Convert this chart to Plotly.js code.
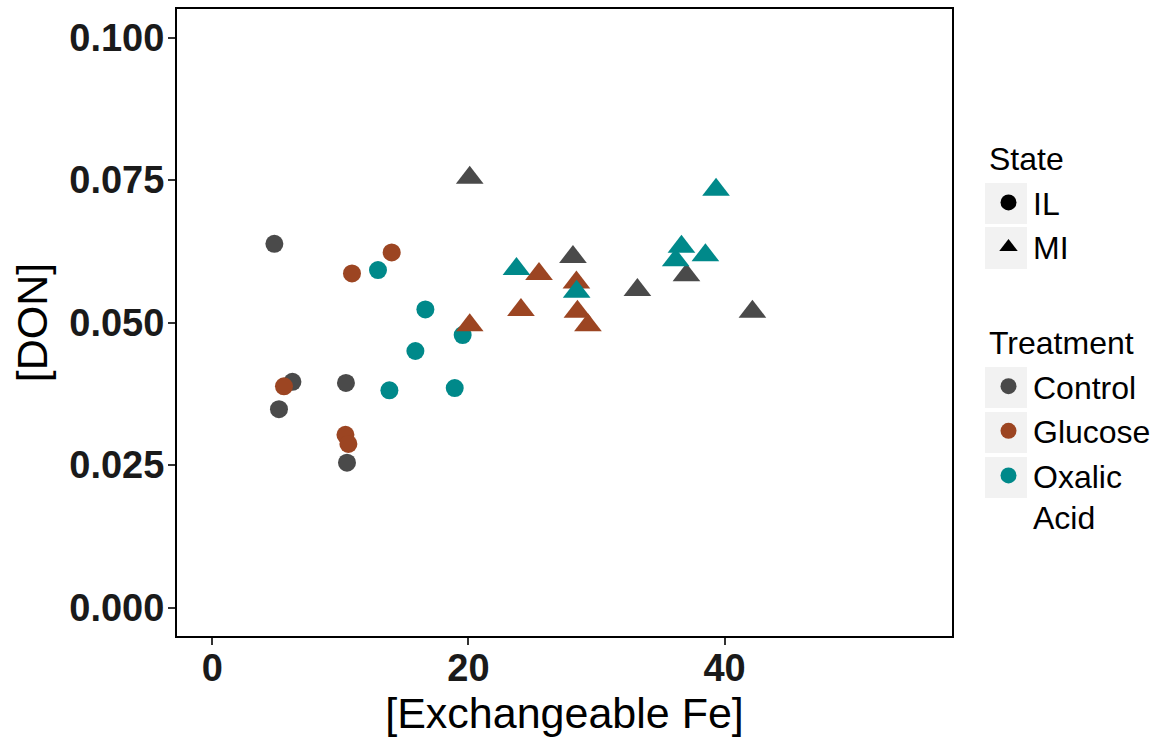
<!DOCTYPE html>
<html>
<head>
<meta charset="utf-8">
<script src="https://cdn.plot.ly/plotly-3.0.1.min.js"></script>
<style>html,body{margin:0;padding:0;background:#fff;}#chart{width:1170px;height:738px;}</style>
</head>
<body>
<div id="chart"></div>
<script>
// ---- data ----
var treatments = ["Control", "Glucose", "Oxalic Acid"];
var treatmentLabels = ["Control", "Glucose", "Oxalic<br>Acid"];
var states = ["IL", "MI"];

// IL (circles)
var IL_Control_x = [4.85, 6.26, 5.21, 10.44, 10.52];
var IL_Control_y = [0.0638, 0.0396, 0.0348, 0.0394, 0.0254];
var IL_Glucose_x = [14.01, 10.91, 5.60, 10.40, 10.63];
var IL_Glucose_y = [0.0623, 0.0586, 0.0388, 0.0303, 0.0287];
var IL_Oxalic_x = [12.94, 16.64, 19.55, 15.86, 13.83, 18.93];
var IL_Oxalic_y = [0.0592, 0.0523, 0.0478, 0.0450, 0.0381, 0.0385];
// MI (triangles)
var MI_Control_x = [20.10, 28.16, 33.19, 37.02, 42.17];
var MI_Control_y = [0.0754, 0.0615, 0.0557, 0.0583, 0.0519];
var MI_Glucose_x = [20.10, 24.10, 25.51, 28.43, 28.51, 29.33];
var MI_Glucose_y = [0.0495, 0.0522, 0.0585, 0.0570, 0.0519, 0.0495];
var MI_Oxalic_x = [23.75, 28.45, 36.18, 36.63, 38.50, 39.33];
var MI_Oxalic_y = [0.0594, 0.0554, 0.0609, 0.0633, 0.0618, 0.0733];

var xTicks = [0, 20, 40];
var yTicks = [0.000, 0.025, 0.050, 0.075, 0.100];
var yTickText = ["0.000", "0.025", "0.050", "0.075", "0.100"];

// ---- styling ----
var colors = {"Control": "#4a4a4a", "Glucose": "#9c4522", "Oxalic Acid": "#00898a"};
var symbols = {"IL": "circle", "MI": "triangle-up"};
var sizes = {"IL": 18, "MI": 24};
var FONT = "Liberation Sans, Arial, Helvetica, sans-serif";

var series = {
  "IL": {"Control": [IL_Control_x, IL_Control_y], "Glucose": [IL_Glucose_x, IL_Glucose_y], "Oxalic Acid": [IL_Oxalic_x, IL_Oxalic_y]},
  "MI": {"Control": [MI_Control_x, MI_Control_y], "Glucose": [MI_Glucose_x, MI_Glucose_y], "Oxalic Acid": [MI_Oxalic_x, MI_Oxalic_y]}
};

var traces = [];
states.forEach(function (s) {
  treatments.forEach(function (t) {
    traces.push({
      type: "scatter", mode: "markers",
      x: series[s][t][0], y: series[s][t][1],
      name: s + " " + t, showlegend: false,
      marker: {symbol: symbols[s], size: sizes[s], color: colors[t], line: {width: 0}},
      hoverinfo: "x+y"
    });
  });
});

// legend-only entries
states.forEach(function (s, i) {
  traces.push({
    type: "scatter", mode: "markers", x: [null], y: [null],
    name: s, legendgroup: "state", legendrank: i + 1,
    legendgrouptitle: {text: "State", font: {size: 32, family: FONT, color: "#000"}},
    marker: {symbol: symbols[s], size: 16, color: "#000"}
  });
});
treatments.forEach(function (t, i) {
  traces.push({
    type: "scatter", mode: "markers", x: [null], y: [null],
    name: treatmentLabels[i], legendgroup: "treat", legendrank: 10 + i,
    legendgrouptitle: {text: "Treatment", font: {size: 32, family: FONT, color: "#000"}},
    marker: {symbol: "circle", size: 16, color: colors[t]}
  });
});

// plot area in pixels
var PL = 177, PR = 952, PT = 9, PB = 636;
function px2x(p) { return (p - PL) / (PR - PL); }
function px2y(p) { return (PB - p) / (PB - PT); }
var keyBoxes = [[183, 224], [227, 269], [367, 408], [412, 453], [457, 498]];
var shapes = keyBoxes.map(function (b) {
  return {type: "rect", xref: "paper", yref: "paper", x0: px2x(985), x1: px2x(1027),
          y0: px2y(b[1]), y1: px2y(b[0]), fillcolor: "#f2f2f2", line: {width: 0}, layer: "below"};
});

var layout = {
  width: 1170, height: 738,
  margin: {l: PL, r: 1170 - PR, t: PT, b: 738 - PB, pad: 0},
  paper_bgcolor: "#fff", plot_bgcolor: "#fff",
  font: {family: FONT, color: "#000"},
  showlegend: true,
  legend: {
    x: px2x(984), xanchor: "left", y: px2y(130.5), yanchor: "top",
    font: {size: 32, family: FONT, color: "#000"},
    traceorder: "grouped", tracegroupgap: 50, valign: "top",
    itemwidth: 39,
    bgcolor: "rgba(0,0,0,0)", borderwidth: 0, itemsizing: "trace"
  },
  xaxis: {
    range: [-2.75, 57.75], tickvals: xTicks, ticktext: xTicks.map(String),
    showgrid: false, zeroline: false,
    showline: true, linecolor: "#000", linewidth: 2, mirror: true,
    ticks: "outside", ticklen: 7, tickwidth: 2, tickcolor: "#333",
    ticklabelstandoff: -10,
    tickfont: {size: 38, family: FONT, color: "#1a1a1a", weight: "bold"},
    title: {text: "[Exchangeable Fe]", font: {size: 43, family: FONT, color: "#000"}, standoff: 8}
  },
  yaxis: {
    range: [-0.005, 0.105], tickvals: yTicks, ticktext: yTickText,
    showgrid: false, zeroline: false,
    showline: true, linecolor: "#000", linewidth: 2, mirror: true,
    ticks: "outside", ticklen: 7, tickwidth: 2, tickcolor: "#333",
    ticklabelstandoff: -4,
    tickfont: {size: 38, family: FONT, color: "#1a1a1a", weight: "bold"},
    title: {text: "[DON]", font: {size: 43, family: FONT, color: "#000"}, standoff: 8}
  },
  shapes: shapes
};

Plotly.newPlot("chart", traces, layout, {displayModeBar: false, responsive: false});
</script>
</body>
</html>
